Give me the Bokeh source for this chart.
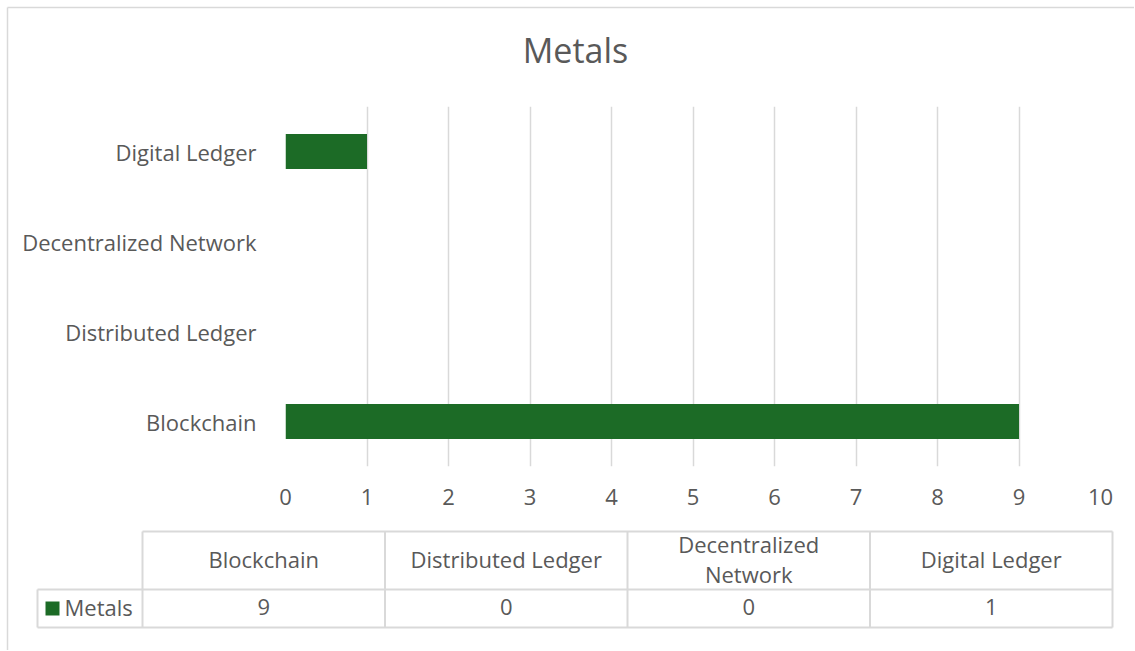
from bokeh.plotting import figure
from bokeh.models import Range1d, FixedTicker, ColumnDataSource
from bokeh.core.properties import value
from bokeh.embed import file_html
from bokeh.resources import INLINE

# ---- data ----
series_name = "Metals"
categories = ["Blockchain", "Distributed Ledger", "Decentralized Network", "Digital Ledger"]
values = [9, 0, 0, 1]
header_labels = ["Blockchain", "Distributed Ledger", "Decentralized\nNetwork", "Digital Ledger"]
x_ticks = [0, 1, 2, 3, 4, 5, 6, 7, 8, 9, 10]

FONT = "Open Sans"
TXT = "#595959"
GRID = "#d9d9d9"
BAR = "#1c6b26"
FS = "22px"

W, H = 1134, 650
FL, FR, FT, FB = 285, 1100, 106, 466   # frame edges on the page

n = len(categories)
cat_pos = [i + 0.5 for i in range(n)]

p = figure(width=W, height=H, y_range=Range1d(0, n), x_range=Range1d(0, 10),
           toolbar_location=None, output_backend="svg",
           min_border_left=FL, min_border_right=W - FR,
           min_border_top=FT, min_border_bottom=H - FB)
p.outline_line_color = None
p.border_fill_color = "white"
src = ColumnDataSource(dict(pos=cat_pos, val=values))
p.hbar(y="pos", right="val", left=0, height=0.39, source=src, fill_color=BAR, line_color=None)
p.xaxis.ticker = FixedTicker(ticks=x_ticks)
p.yaxis.ticker = FixedTicker(ticks=cat_pos)
p.yaxis.major_label_overrides = {pos: c for pos, c in zip(cat_pos, categories)}
p.ygrid.visible = False
p.xgrid.grid_line_color = GRID
p.xgrid.grid_line_width = 1.5
for ax in (p.xaxis, p.yaxis):
    ax.axis_line_color = None
    ax.major_tick_line_color = None
    ax.minor_tick_line_color = None
    ax.major_label_text_font = FONT
    ax.major_label_text_font_size = FS
    ax.major_label_text_color = TXT
p.yaxis.major_label_standoff = 23
p.xaxis.major_label_standoff = 16

# page-pixel ranges for the title and the data table (drawn outside the plot frame)
p.extra_x_ranges = {"px": Range1d(FL, FR)}
p.extra_y_ranges = {"py": Range1d(FB, FT)}
kw = dict(x_range_name="px", y_range_name="py", level="overlay")
tkw = dict(text_font=value(FONT), text_font_size=FS, text_color=TXT, y_offset=-2, **kw)

# ---- title ----
p.text(x=[575], y=[51], text=[series_name], text_align="center", text_baseline="middle",
       text_font=value(FONT), text_font_size="34px", text_color=TXT, y_offset=-2, **kw)

# ---- chart border (left and top edges) ----
p.segment(x0=[7, 7], y0=[7, 7], x1=[7, W + 5], y1=[H + 5, 7], line_color=GRID, line_width=1.5, **kw)

# ---- data table ----
tl, tr = 142, 1112
legend_left = 37
yt, ym, yb = 531, 589, 627
cw = (tr - tl) / n
xs = [tl + i * cw for i in range(n + 1)]
x0s = [tl, legend_left, legend_left] + xs + [legend_left]
x1s = [tr, tr, tr] + xs + [legend_left]
y0s = [yt, ym, yb] + [yt] * (n + 1) + [ym]
y1s = [yt, ym, yb] + [yb] * (n + 1) + [yb]
p.segment(x0=x0s, y0=y0s, x1=x1s, y1=y1s, line_color=GRID, line_width=2, **kw)

centers = [tl + (i + 0.5) * cw for i in range(n)]
p.text(x=centers, y=[(yt + ym) / 2] * n, text=header_labels, text_align="center",
       text_baseline="middle", text_line_height=1.0, **tkw)
row_mid = (ym + yb) / 2
p.text(x=centers, y=[row_mid] * n, text=[str(v) for v in values], text_align="center",
       text_baseline="middle", **tkw)
p.rect(x=[52], y=[row_mid], width=14, height=14, fill_color=BAR, line_color=None, **kw)
p.text(x=[64], y=[row_mid], text=[series_name], text_align="left", text_baseline="middle", **tkw)

open("out.html", "w").write(file_html(p, INLINE))
